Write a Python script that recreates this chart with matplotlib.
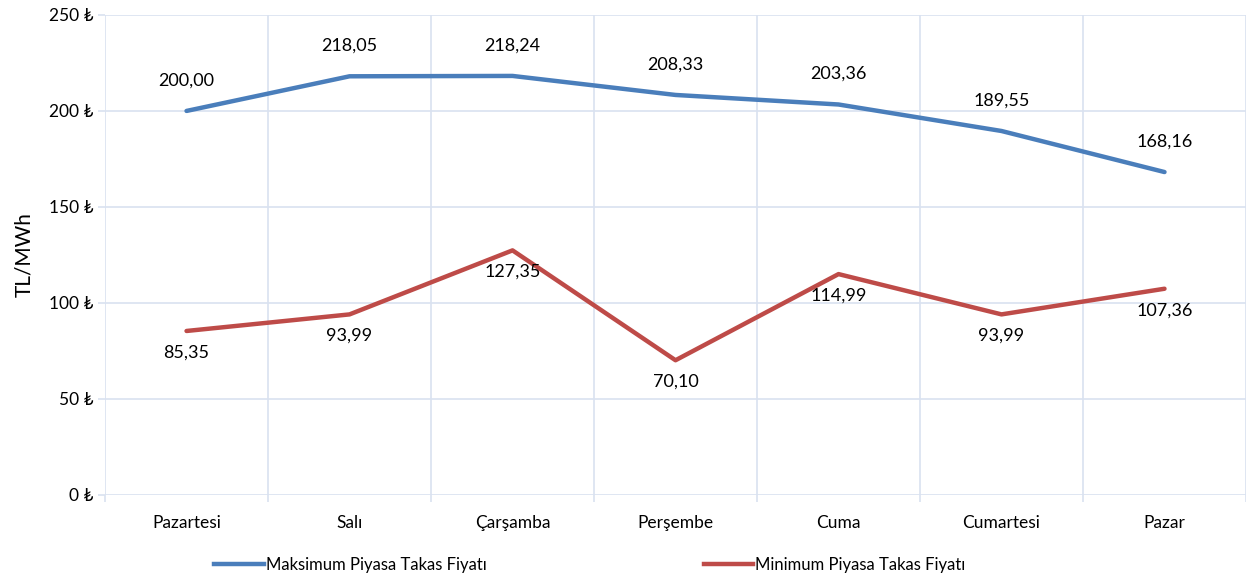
import matplotlib
matplotlib.use("Agg")
import matplotlib.pyplot as plt
from matplotlib.ticker import FuncFormatter, MultipleLocator
from matplotlib.lines import Line2D

plt.rcParams["font.family"] = ["Lato", "DejaVu Sans"]

days = ["Pazartesi", "Salı", "Çarşamba", "Perşembe", "Cuma", "Cumartesi", "Pazar"]
max_price = [200.00, 218.05, 218.24, 208.33, 203.36, 189.55, 168.16]
min_price = [85.35, 93.99, 127.35, 70.10, 114.99, 93.99, 107.36]

BLUE = "#4A7EBB"
RED = "#BE4B48"
GRID = "#D9E2F0"
TXT = "#000000"

fig = plt.figure(figsize=(12.46, 5.76), dpi=100)
ax = fig.add_axes([0.0843, 0.141, 0.9157, 0.833])

x = list(range(len(days)))
ax.plot(x, max_price, color=BLUE, lw=3.2, solid_capstyle="round", zorder=3)
ax.plot(x, min_price, color=RED, lw=3.2, solid_capstyle="round", zorder=3)

fmt = lambda v: f"{v:.2f}".replace(".", ",")
for xi, v in zip(x, max_price):
    ax.annotate(fmt(v), (xi, v), xytext=(0, 22), textcoords="offset points",
                ha="center", va="center", fontsize=13, color=TXT)
for xi, v in zip(x, min_price):
    ax.annotate(fmt(v), (xi, v), xytext=(0, -15.5), textcoords="offset points",
                ha="center", va="center", fontsize=13, color=TXT)

ax.set_xlim(-0.5, len(days) - 0.5)
ax.set_ylim(0, 250)
ax.yaxis.set_major_locator(MultipleLocator(50))
ax.yaxis.set_major_formatter(FuncFormatter(lambda v, p: f"{int(v)} ₺"))
ax.set_xticks(x)
ax.set_xticklabels(days)
ax.set_xticks([i + 0.5 for i in range(-1, len(days))], minor=True)

ax.grid(True, axis="y", which="major", color=GRID, lw=1.2)
ax.grid(True, axis="x", which="minor", color=GRID, lw=1.2)
for sp in ax.spines.values():
    sp.set_visible(False)
ax.tick_params(axis="y", which="major", length=5, color=GRID, width=1.2,
               labelsize=12.5, pad=3)
ax.tick_params(axis="x", which="major", length=0, labelsize=12.5, pad=14.5)
ax.tick_params(axis="x", which="minor", length=5, color=GRID, width=1.2)
ax.set_ylabel("TL/MWh", fontsize=15, labelpad=11)

handles = [Line2D([], [], color=BLUE, lw=3.2),
           Line2D([], [], color=RED, lw=3.2)]
fig.legend(handles, ["Maksimum Piyasa Takas Fiyatı", "Minimum Piyasa Takas Fiyatı"],
           loc="center", bbox_to_anchor=(0.4735, 0.0195), ncol=2, frameon=False,
           fontsize=12, handlelength=2.95, handletextpad=0.15, columnspacing=13.0)

fig.savefig("out.png", dpi=100)
